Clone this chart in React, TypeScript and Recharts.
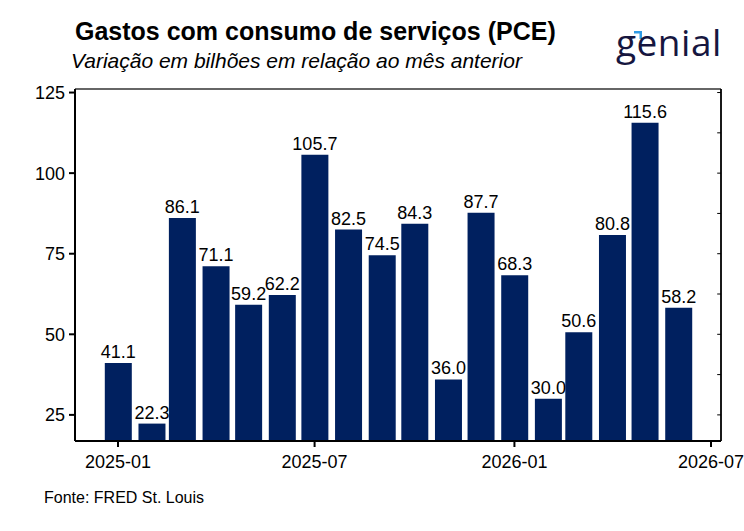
import { BarChart, Bar, XAxis, YAxis, CartesianGrid, LabelList, ReferenceLine } from 'recharts';

// PCE serviços, variação mensal (US$ bi)
const months = [
  '2025-01', '2025-02', '2025-03', '2025-04', '2025-05', '2025-06',
  '2025-07', '2025-08', '2025-09', '2025-10', '2025-11', '2025-12',
  '2026-01', '2026-02', '2026-03', '2026-04', '2026-05', '2026-06',
];
const gastos = [
  41.1, 22.3, 86.1, 71.1, 59.2, 62.2,
  105.7, 82.5, 74.5, 84.3, 36.0, 87.7,
  68.3, 30.0, 50.6, 80.8, 115.6, 58.2,
];
const xTickLabels = ['2025-01', '2025-07', '2026-01', '2026-07'];
const yTicks = [25, 50, 75, 100, 125];
const gridValues = [37.5, 62.5, 87.5, 112.5];
const frameTicks = [25, 37.5, 50, 62.5, 75, 87.5, 100, 112.5, 125];

const FONT = '"Liberation Sans", Arial, Helvetica, sans-serif';
const NAVY = '#00205f';
const DAY = 86400000;
const ORIGIN = Date.UTC(2025, 0, 1);

const toDay = (m: string) => {
  const [y, mo] = m.split('-').map(Number);
  return (Date.UTC(y, mo - 1, 1) - ORIGIN) / DAY;
};

const data = months.map((m, i) => ({ d: toDay(m), v: gastos[i] }));
const xTicks = xTickLabels.map(toDay);
const labelFor = (d: number) => xTickLabels[xTicks.indexOf(d)] ?? '';

const X_DOMAIN: [number, number] = [-39.6, 555.2];
const Y_DOMAIN: [number, number] = [16.9, 126.1];

function Logo() {
  return (
    <div style={{ position: 'absolute', left: 614, top: 18, width: 120, height: 60 }}>
      <svg width={20} height={12} style={{ position: 'absolute', left: 19, top: 12 }}>
        <path d="M1 1 H9 V9 H6.5 V3.5 H1 Z" fill="#2f9be6" />
      </svg>
      <div
        style={{
          position: 'absolute',
          left: 2,
          top: 0,
          fontFamily: '"Open Sans", Lato, sans-serif',
          fontWeight: 500,
          fontSize: 37,
          letterSpacing: 0.5,
          color: '#16163f',
          lineHeight: '48px',
        }}
      >
        genial
      </div>
    </div>
  );
}

export default function App() {
  return (
    <div style={{ position: 'relative', width: 744, height: 531, background: '#fff', fontFamily: FONT }}>
      <style>{'body{margin:0}'}</style>
      <div style={{ position: 'absolute', left: 75, top: 17, fontSize: 25, fontWeight: 700, color: '#000', whiteSpace: 'nowrap' }}>
        Gastos com consumo de serviços (PCE)
      </div>
      <div style={{ position: 'absolute', left: 71, top: 49, fontSize: 21, fontStyle: 'italic', color: '#000', whiteSpace: 'nowrap' }}>
        Variação em bilhões em relação ao mês anterior
      </div>
      <Logo />
      <div style={{ position: 'absolute', left: 44, top: 489, fontSize: 16, color: '#000', whiteSpace: 'nowrap' }}>
        Fonte: FRED St. Louis
      </div>

      <div style={{ position: 'absolute', left: 0, top: 0 }}>
        <BarChart width={744} height={531} data={data} margin={{ top: 89, right: 23, bottom: 60, left: 0 }}>
          <CartesianGrid vertical={false} horizontalValues={gridValues} stroke="#efefef" strokeWidth={1} />
          <XAxis
            dataKey="d"
            type="number"
            domain={X_DOMAIN}
            allowDataOverflow
            ticks={xTicks}
            tickFormatter={labelFor}
            height={30}
            tickSize={6}
            tickMargin={8}
            axisLine={{ stroke: '#000', strokeWidth: 2 }}
            tickLine={{ stroke: '#000', strokeWidth: 2 }}
            tick={{ fill: '#000', fontSize: 18, fontFamily: FONT }}
          />
          <YAxis
            yAxisId="l"
            type="number"
            domain={Y_DOMAIN}
            allowDataOverflow
            ticks={yTicks}
            width={75}
            tickSize={6}
            tickMargin={4}
            axisLine={{ stroke: '#000', strokeWidth: 2 }}
            tickLine={{ stroke: '#000', strokeWidth: 2 }}
            tick={{ fill: '#000', fontSize: 18, fontFamily: FONT }}
          />
          <ReferenceLine yAxisId="l" y={Y_DOMAIN[1]} stroke="#333" strokeWidth={1.4} />
          <ReferenceLine yAxisId="l" x={X_DOMAIN[1]} stroke="#000" strokeWidth={1.8} />
          {frameTicks.map((t) => (
            <ReferenceLine
              key={t}
              yAxisId="l"
              segment={[{ x: X_DOMAIN[1] - 3.5, y: t }, { x: X_DOMAIN[1], y: t }]}
              stroke="#000"
              strokeWidth={1}
            />
          ))}
          <Bar yAxisId="l" dataKey="v" fill={NAVY} barSize={27} isAnimationActive={false}>
            <LabelList
              dataKey="v"
              position="top"
              offset={5}
              fill="#000"
              fontSize={18}
              fontFamily={FONT}
              formatter={(v: number) => Number(v).toFixed(1)}
            />
          </Bar>
        </BarChart>
      </div>
    </div>
  );
}
